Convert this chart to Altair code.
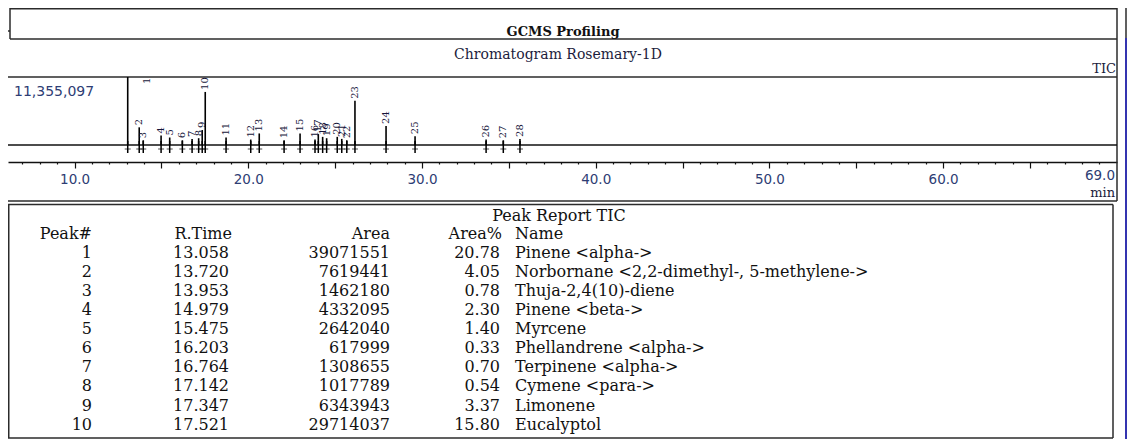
import altair as alt
import pandas as pd

# ---------------- chromatogram data ----------------
FULL_SCALE = 11355097
PEAK_NO = list(range(1, 29))
PEAK_RT = [13.058, 13.720, 13.953, 14.979, 15.475, 16.203, 16.764, 17.142, 17.347, 17.521,
           18.72, 20.14, 20.63, 22.06, 22.98, 23.84, 24.03, 24.28, 24.51, 25.12,
           25.38, 25.67, 26.14, 27.93, 29.60, 33.69, 34.68, 35.64]
PEAK_INT = [11355097, 2950000, 795000, 1590000, 1250000, 795000, 1020000, 1135000, 2500000, 8860000,
            1250000, 910000, 1930000, 795000, 1930000, 910000, 1820000, 1360000, 1135000, 1360000,
            1020000, 795000, 7380000, 3180000, 1480000, 910000, 795000, 1020000]

# ---------------- peak report table ----------------
TABLE_PEAK = [1, 2, 3, 4, 5, 6, 7, 8, 9, 10]
TABLE_RT = [13.058, 13.720, 13.953, 14.979, 15.475, 16.203, 16.764, 17.142, 17.347, 17.521]
TABLE_AREA = [39071551, 7619441, 1462180, 4332095, 2642040, 617999, 1308655, 1017789, 6343943, 29714037]
TABLE_PCT = [20.78, 4.05, 0.78, 2.30, 1.40, 0.33, 0.70, 0.54, 3.37, 15.80]
TABLE_NAME = ["Pinene <alpha->", "Norbornane <2,2-dimethyl-, 5-methylene->", "Thuja-2,4(10)-diene",
              "Pinene <beta->", "Myrcene", "Phellandrene <alpha->", "Terpinene <alpha->",
              "Cymene <para->", "Limonene", "Eucalyptol"]

peaks = pd.DataFrame({"peak": PEAK_NO, "rt": PEAK_RT, "intensity": PEAK_INT})
table = pd.DataFrame({"row": list(range(1, 11)), "peak": TABLE_PEAK, "rtime": TABLE_RT,
                      "area": TABLE_AREA, "pct": TABLE_PCT, "name": TABLE_NAME})
one = pd.DataFrame({"k": [0]})

SERIF = "DejaVu Serif"
SANS = "DejaVu Sans"
FRAME = "#2b2b2b"
NAVY = "#2e3d74"

X = alt.X("rt:Q", title=None,
          scale=alt.Scale(domain=[6.166, 70.01], range=[0, 1109], nice=False, zero=False),
          axis=alt.Axis(values=list(range(7, 70)),
                        labelExpr="(datum.value % 10 == 0 || datum.value == 69) ? format(datum.value, '.1f') : ''",
                        tickSize={"condition": {"test": "datum.value % 5 == 0", "value": 6}, "value": 2},
                        labelOverlap=False, labelFlush=False, grid=False))
Y_INT = alt.Y("intensity:Q", scale=alt.Scale(domain=[0, FULL_SCALE], range=[137, 69], zero=True, nice=False), axis=None)
Y_ROW = alt.Y("row:Q", scale=alt.Scale(domain=[0, 10], range=[226, 416.6], nice=False), axis=None)


def hline(y, x1, x2, color=FRAME, w=1.5):
    return alt.Chart(one).mark_rule(color=color, strokeWidth=w).encode(
        x=alt.value(x1), x2=alt.value(x2), y=alt.value(y))


def vline(x, y1, y2, color=FRAME, w=1.5):
    return alt.Chart(one).mark_rule(color=color, strokeWidth=w).encode(
        x=alt.value(x), y=alt.value(y1), y2=alt.value(y2))


def txt(text, x, y, size, align="center", bold=False, font=SERIF, color="#111111"):
    return alt.Chart(one).mark_text(text=text, align=align, baseline="middle", fontSize=size, font=font,
                                    fontWeight="bold" if bold else "normal", color=color).encode(
        x=alt.value(x), y=alt.value(y))


layers = []
# frames
layers += [
    hline(0.75, 2, 1109), vline(2, 0, 31), hline(31, 2, 1109), hline(23, 0, 2),
    hline(69, 0, 1109), vline(1109, 0, 193), hline(193, 0, 1109),
    hline(196.5, 0, 1105), vline(1105, 196.5, 430), hline(430, 0, 1105), vline(0.75, 196.5, 430),
    vline(1118, 30, 431, color="#3434b0", w=2), vline(1118, 0, 30, color=FRAME, w=1.5),
]
# titles
layers += [
    txt("GCMS Profiling", 555, 24, 13, bold=True),
    txt("Chromatogram Rosemary-1D", 550, 47, 14, color="#1c1c3c"),
    txt("TIC", 1108, 61, 13, align="right", color="#1c1c3c"),
    txt("11,355,097", 6, 84, 14, align="left", font=SANS, color=NAVY),
    txt("min", 1107, 185, 13, align="right", color="#1c1c3c"),
]
# baseline of the signal
layers.append(hline(137, 0, 1109, color="#111111", w=1.5))

# peaks
layers.append(alt.Chart(peaks).mark_rule(color="#000000", strokeWidth=1.6).encode(
    x=X, y=Y_INT, y2=alt.datum(0)))
# peak markers below baseline
layers.append(alt.Chart(peaks).mark_rule(color="#000000", strokeWidth=1.5).encode(
    x=X, y=alt.value(133), y2=alt.value(145)))
layers.append(alt.Chart(peaks).mark_tick(color="#000000", orient="horizontal", size=6, thickness=1).encode(
    x=X, y=alt.value(141)))
# peak labels
layers.append(alt.Chart(peaks).transform_filter("datum.peak > 1").mark_text(
    angle=270, align="left", baseline="middle", dx=2, fontSize=10, font=SERIF, color="#15153a").encode(
    x=X, y=Y_INT, text="peak:N"))
layers.append(alt.Chart(peaks).transform_filter("datum.peak == 1").mark_text(
    angle=270, align="left", baseline="middle", dx=-7, dy=19, fontSize=10, font=SERIF, color="#15153a").encode(
    x=X, y=Y_INT, text="peak:N"))

# table
TS = 16
layers += [
    txt("Peak Report TIC", 551, 208, TS),
    txt("Peak#", 84, 226, TS, align="right"),
    txt("R.Time", 224, 226, TS, align="right"),
    txt("Area", 382, 226, TS, align="right"),
    txt("Area%", 494, 226, TS, align="right"),
    txt("Name", 507, 226, TS, align="left"),
]
col = dict(baseline="middle", fontSize=TS, font=SERIF, color="#111111")
layers.append(alt.Chart(table).mark_text(align="right", **col).encode(
    x=alt.value(84), y=Y_ROW, text="peak:N"))
layers.append(alt.Chart(table).mark_text(align="right", **col).encode(
    x=alt.value(221), y=Y_ROW, text=alt.Text("rtime:Q", format=".3f")))
layers.append(alt.Chart(table).mark_text(align="right", **col).encode(
    x=alt.value(382), y=Y_ROW, text=alt.Text("area:Q", format="d")))
layers.append(alt.Chart(table).mark_text(align="right", **col).encode(
    x=alt.value(492), y=Y_ROW, text=alt.Text("pct:Q", format=".2f")))
layers.append(alt.Chart(table).mark_text(align="left", **col).encode(
    x=alt.value(507), y=Y_ROW, text="name:N"))

chart = alt.layer(*layers).resolve_scale(y="independent").properties(
    width=1119, height=154,
    padding={"left": 0, "top": 0, "right": 0, "bottom": 277},
    autosize=alt.AutoSizeParams(type="none"),
    background="white",
).configure_view(stroke=None).configure_axis(
    domainColor="#111111", domainWidth=1.5, tickColor="#111111", tickWidth=1.2,
    labelColor=NAVY, labelFont=SANS, labelFontSize=13.5, labelPadding=4,
)

chart.save("out.html", embed_options={"renderer": "svg", "actions": False})
